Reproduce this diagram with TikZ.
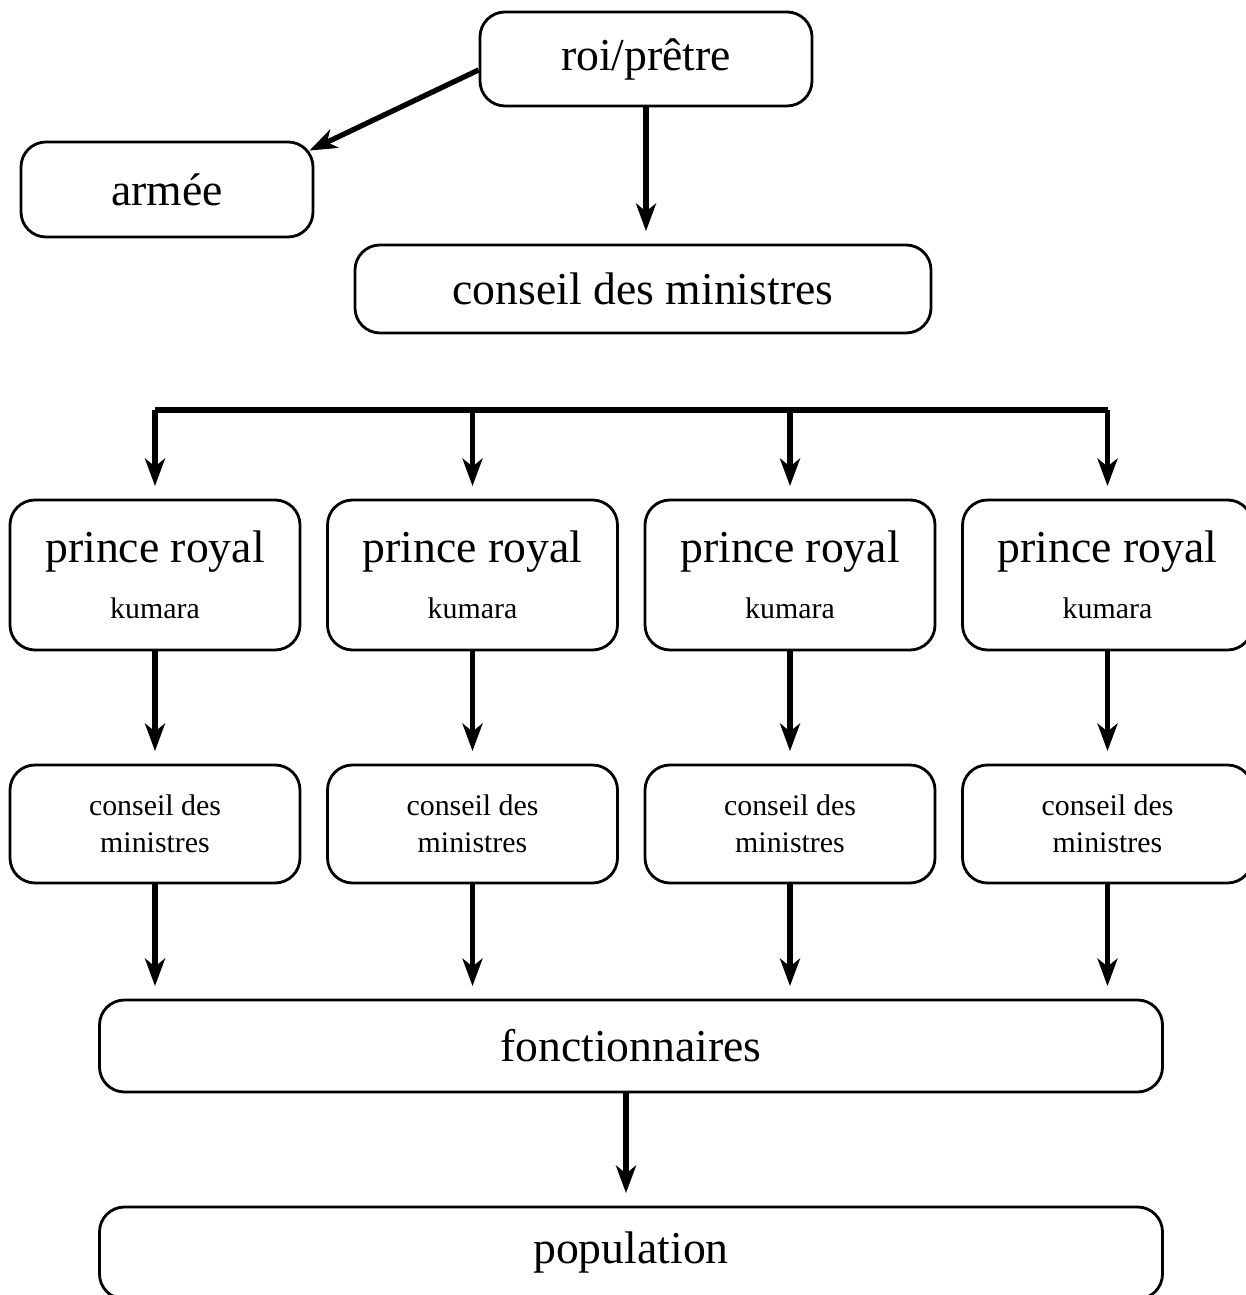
\documentclass[tikz,border=0pt]{standalone}
\usepackage{fontspec}
\setmainfont{Liberation Serif}
\usetikzlibrary{arrows.meta, positioning}

\begin{document}
\begin{tikzpicture}[
  box/.style={draw=black, line width=1.6pt, rounded corners=0.5cm, align=center, inner sep=0pt},
  big/.style={font=\fontsize{26}{30}\selectfont},
  small/.style={font=\fontsize{17}{21}\selectfont},
  arr/.style={line width=3pt, -{Stealth[length=5.5mm, width=4mm, inset=1.6mm]}, shorten >=2.5mm}]
\useasboundingbox (0,0) rectangle (24.92,25.9);
% top
\node[box, big, minimum width=6.64cm, minimum height=1.88cm] (roi) at (12.92, 24.72) {roi/prêtre};
\node[box, big, minimum width=5.84cm, minimum height=1.90cm] (armee) at (3.34, 22.11) {armée};
\node[box, big, minimum width=11.52cm, minimum height=1.76cm] (conseil) at (12.86, 20.12) {conseil des ministres};
\draw[arr, shorten >=0mm] ([yshift=-2.2mm]roi.west) -- ([xshift=-1mm, yshift=-2mm]armee.north east);
\draw[arr] (roi) -- (roi |- conseil.north);
% princes
\foreach \i/\x in {1/3.1, 2/9.45, 3/15.8, 4/22.15} {
  \coordinate (bus\i) at (\x, 17.7);
  \node[box, big, minimum width=5.8cm, minimum height=3.0cm] (prince\i) at (\x, 14.4)
    {prince royal\\[2pt]{\fontsize{17}{21}\selectfont kumara}};
  \node[box, small, minimum width=5.8cm, minimum height=2.36cm] (ministres\i) at (\x, 9.42)
    {conseil des\\ministres};
}
\draw[line width=3pt] (bus1) -- (bus4);
% bottom
\node[box, big, minimum width=21.26cm, minimum height=1.84cm] (fonct) at (12.62, 4.98) {fonctionnaires};
\node[box, big, minimum width=21.26cm, minimum height=1.84cm] (pop) at (12.62, 0.84) {population};
\foreach \i in {1,...,4} {
  \draw[arr] (bus\i) -- (prince\i);
  \draw[arr] (prince\i) -- (ministres\i);
  \draw[arr] (ministres\i) -- (ministres\i.south |- fonct.north);
}
\draw[arr] ([xshift=-1mm]fonct.south) -- ([xshift=-1mm]pop.north);
\end{tikzpicture}
\end{document}
